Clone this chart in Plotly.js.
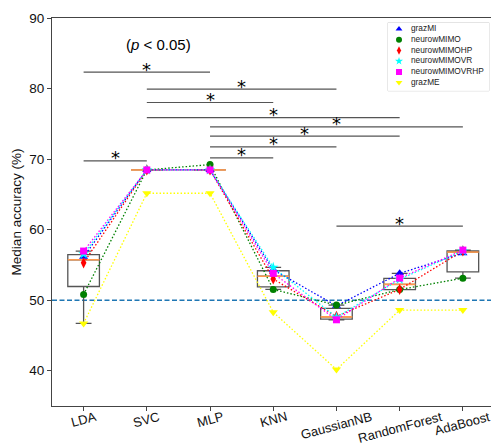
<!DOCTYPE html>
<html>
<head>
<meta charset="utf-8">
<script src="https://cdn.plot.ly/plotly-3.0.1.min.js"></script>
<style>html,body{margin:0;padding:0;background:#fff;}#chart{width:491px;height:446px;}</style>
</head>
<body>
<div id="chart"></div>
<script>
// ---------- data ----------
const categories = ['LDA', 'SVC', 'MLP', 'KNN', 'GaussianNB', 'RandomForest', 'AdaBoost'];
const seriesNames = ['grazMI', 'neurowMIMO', 'neurowMIMOHP', 'neurowMIMOVR', 'neurowMIMOVRHP', 'grazME'];
const grazMI         = [56.16, 68.46, 68.46, 54.30, 49.20, 53.80, 56.65];
const neurowMIMO     = [50.82, 68.46, 69.22, 51.53, 49.30, 51.50, 53.12];
const neurowMIMOHP   = [55.30, 68.46, 68.46, 53.00, 47.70, 51.53, 57.00];
const neurowMIMOVR   = [56.55, 68.46, 68.46, 54.65, 47.58, 52.95, 56.99];
const neurowMIMOVRHP = [56.96, 68.46, 68.46, 53.80, 47.22, 53.13, 57.10];
const grazME         = [46.70, 65.16, 65.16, 48.30, 40.17, 48.60, 48.60];
const chanceLevel = 50;
// significance bars: [from category index, to category index, height]
const sigFrom   = [0, 1, 1, 1, 2, 2, 2, 2, 0, 4];
const sigTo     = [2, 4, 3, 5, 6, 5, 4, 3, 1, 6];
const sigHeight = [82.33, 79.92, 78.02, 75.89, 74.57, 73.25, 71.73, 70.17, 69.74, 60.51];
const sigLabel = '*';
const pNote = '(<i>p</i> &lt; 0.05)';

// ---------- styles ----------
const allSeries = [grazMI, neurowMIMO, neurowMIMOHP, neurowMIMOVR, neurowMIMOVRHP, grazME];
const colors = ['#0000ff', '#008000', '#ff0000', '#00ffff', '#ff00ff', '#ffff00'];
const symbols = ['triangle-up', 'circle', 'diamond-tall', 'star', 'square', 'triangle-down'];
const msizes = [8, 7, 8, 8, 7, 8];
const FONT = 'Liberation Sans, Arial, sans-serif';

// numpy-style linear percentile
function pct(sorted, p) {
  const pos = (sorted.length - 1) * p;
  const lo = Math.floor(pos), hi = Math.ceil(pos);
  return sorted[lo] + (sorted[hi] - sorted[lo]) * (pos - lo);
}
const xIdx = categories.map((c, i) => i);
const q1 = [], med = [], q3 = [], lf = [], uf = [];
xIdx.forEach(i => {
  const v = allSeries.map(s => s[i]).sort((a, b) => a - b);
  const a = pct(v, 0.25), m = pct(v, 0.5), b = pct(v, 0.75);
  const iqr = b - a;
  const inside = v.filter(x => x >= a - 1.5 * iqr && x <= b + 1.5 * iqr);
  q1.push(a); med.push(m); q3.push(b);
  lf.push(Math.min(a, inside[0])); uf.push(Math.max(b, inside[inside.length - 1]));
});

const traces = [];
traces.push({
  type: 'box', x: xIdx, q1: q1, median: med, q3: q3, lowerfence: lf, upperfence: uf,
  width: 0.5, whiskerwidth: 0.5, fillcolor: 'rgba(0,0,0,0)',
  line: {color: '#555555', width: 1.3}, boxpoints: false, showlegend: false, hoverinfo: 'skip'
});
// orange medians
traces.push({
  type: 'scatter', mode: 'lines', showlegend: false, hoverinfo: 'skip',
  x: xIdx.flatMap(i => [i - 0.25, i + 0.25, null]),
  y: med.flatMap(m => [m, m, null]),
  line: {color: '#ff9a4d', width: 1.6}
});
allSeries.forEach((s, k) => {
  traces.push({
    type: 'scatter', mode: 'lines', x: xIdx, y: s, showlegend: false, hoverinfo: 'skip',
    line: {color: colors[k], width: 1.3, dash: '1.5px,2px'}
  });
});
allSeries.forEach((s, k) => {
  traces.push({
    type: 'scatter', mode: 'markers', x: xIdx, y: s, name: seriesNames[k], showlegend: false,
    marker: {color: colors[k], symbol: symbols[k], size: msizes[k], line: {width: 0}}
  });
});
// legend drawn in a small subplot
traces.push({
  type: 'scatter', mode: 'markers', xaxis: 'x2', yaxis: 'y2', showlegend: false, hoverinfo: 'skip',
  x: seriesNames.map(() => 11), y: seriesNames.map((n, k) => k),
  marker: {color: colors, symbol: symbols, size: 6, line: {width: 0}}
});
traces.push({
  type: 'scatter', mode: 'text', xaxis: 'x2', yaxis: 'y2', showlegend: false, hoverinfo: 'skip',
  x: seriesNames.map(() => 23), y: seriesNames.map((n, k) => k), text: seriesNames,
  textposition: 'middle right', textfont: {family: FONT, size: 8.3, color: '#222'}
});

const shapes = [];
sigFrom.forEach((f, k) => {
  shapes.push({type: 'line', xref: 'x', yref: 'y', x0: f, x1: sigTo[k], y0: sigHeight[k], y1: sigHeight[k],
    line: {color: '#555555', width: 1.2}, layer: 'above'});
});
shapes.push({type: 'line', xref: 'paper', yref: 'y', x0: 0, x1: 1, y0: chanceLevel, y1: chanceLevel,
  line: {color: '#1f77b4', width: 1.5, dash: '5px,2.5px'}, layer: 'below'});
// legend frame
shapes.push({type: 'rect', xref: 'paper', yref: 'paper', x0: 0.7654, x1: 0.9954, y0: 0.8123, y1: 0.9879,
  line: {color: '#d0d0d0', width: 1}, fillcolor: '#ffffff', layer: 'below'});

const annotations = [];
sigFrom.forEach((f, k) => {
  annotations.push({xref: 'x', yref: 'y', x: (f + sigTo[k]) / 2, y: sigHeight[k], text: sigLabel,
    showarrow: false, yanchor: 'middle', yshift: 3, font: {family: 'DejaVu Sans', size: 18, color: '#000'}});
});
annotations.push({xref: 'x', yref: 'y', x: 1.19, y: 86.2, text: pNote, showarrow: false,
  font: {family: FONT, size: 15, color: '#000'}});
categories.forEach((c, i) => {
  annotations.push({xref: 'x', yref: 'paper', x: i, y: 0, yanchor: 'top', xanchor: 'center', yshift: -2,
    text: c, textangle: -15, showarrow: false, borderpad: 0, font: {family: FONT, size: 13, color: '#111'}});
});

const layout = {
  width: 491, height: 446,
  margin: {l: 52, r: 0, t: 18.3, b: 40.3},
  paper_bgcolor: '#ffffff', plot_bgcolor: '#ffffff',
  showlegend: false,
  font: {family: FONT, size: 13.5, color: '#111'},
  xaxis: {
    range: [-0.5, 6.445], tickvals: xIdx, showticklabels: false, ticks: 'outside', ticklen: 4,
    tickcolor: '#444', showgrid: false, zeroline: false, showline: true, linecolor: '#444', linewidth: 1, mirror: true
  },
  yaxis: {
    range: [35, 90], tickvals: [40, 50, 60, 70, 80, 90], ticks: 'outside', ticklen: 4, tickcolor: '#444',
    showgrid: false, zeroline: false, showline: true, linecolor: '#444', linewidth: 1,
    tickfont: {family: FONT, size: 13.5, color: '#111'},
    title: {text: 'Median accuracy (%)', font: {family: FONT, size: 13.5, color: '#111'}, standoff: 4}
  },
  xaxis2: {domain: [0.7654, 0.9954], range: [0, 101], visible: false, anchor: 'y2'},
  yaxis2: {domain: [0.8123, 0.9879], range: [5.766, -0.589], visible: false, anchor: 'x2'},
  shapes: shapes,
  annotations: annotations
};

Plotly.newPlot('chart', traces, layout, {staticPlot: true, displayModeBar: false});
</script>
</body>
</html>
